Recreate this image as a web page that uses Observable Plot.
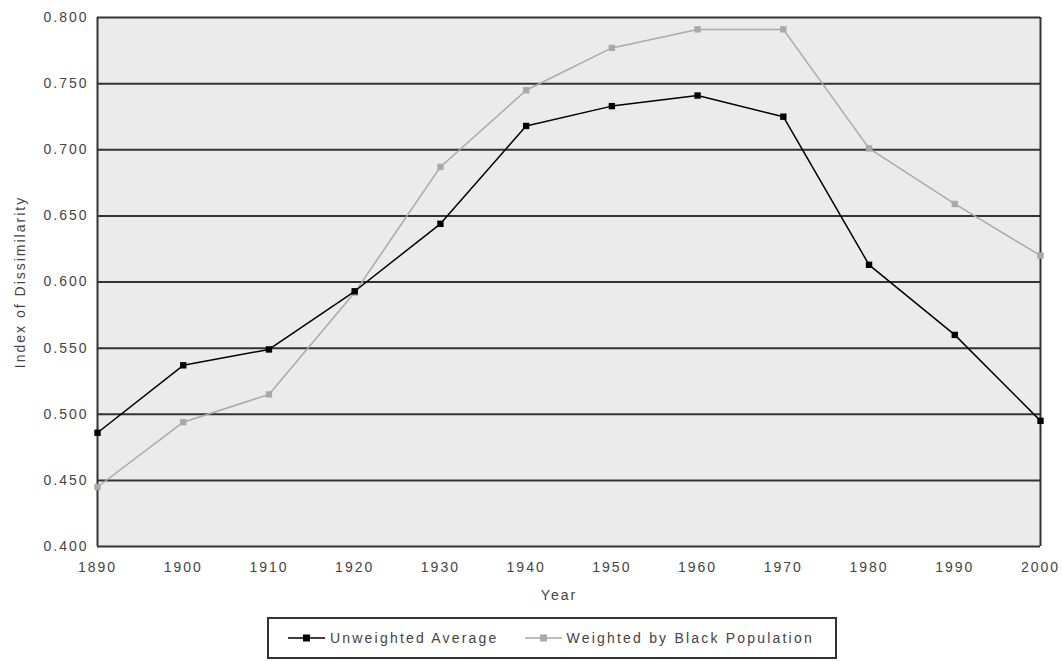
<!DOCTYPE html>
<html>
<head>
<meta charset="utf-8">
<script src="https://cdn.jsdelivr.net/npm/d3@7"></script>
<script src="https://cdn.jsdelivr.net/npm/@observablehq/plot@0.6"></script>
<style>
  html, body { margin: 0; padding: 0; background: #fff; }
  body { width: 1062px; height: 661px; position: relative; overflow: hidden;
         font-family: "Liberation Sans", Arial, sans-serif; }
  #chart svg { display: block; }
  #legend { position: absolute; left: 267px; top: 617px; width: 566px; height: 38px;
            border: 2px solid #333; display: flex; align-items: center;
            font-size: 14px; color: #444; letter-spacing: 2.2px; }
  .item { display: flex; align-items: center; }
</style>
</head>
<body>
<div id="chart"></div>
<div id="legend"></div>
<script>
const years = [1890, 1900, 1910, 1920, 1930, 1940, 1950, 1960, 1970, 1980, 1990, 2000];
const unweighted = [0.486, 0.537, 0.549, 0.593, 0.644, 0.718, 0.733, 0.741, 0.725, 0.613, 0.560, 0.495];
const weighted = [0.445, 0.494, 0.515, 0.592, 0.687, 0.745, 0.777, 0.791, 0.791, 0.701, 0.659, 0.620];
const yTicks = [0.400, 0.450, 0.500, 0.550, 0.600, 0.650, 0.700, 0.750, 0.800];
const seriesNames = ["Unweighted Average", "Weighted by Black Population"];
const seriesColors = ["#000000", "#a9a9a9"];
const xTitle = "Year";
const yTitle = "Index of Dissimilarity";

const data = [];
years.forEach((yr, i) => {
  data.push({year: yr, value: unweighted[i], series: seriesNames[0]});
  data.push({year: yr, value: weighted[i], series: seriesNames[1]});
});

const chart = Plot.plot({
  width: 1062,
  height: 612,
  marginTop: 17,
  marginLeft: 97,
  marginRight: 22,
  marginBottom: 66,
  style: {fontFamily: "'Liberation Sans', Arial, sans-serif", fontSize: "14px", color: "#444", letterSpacing: "2px"},
  x: {domain: [1890, 2000], ticks: years, tickFormat: d => String(d), tickSize: 0, tickPadding: 16, label: null},
  y: {domain: [0.4, 0.8], ticks: yTicks, tickFormat: d3.format(".3f"), tickSize: 0, tickPadding: 9, label: null},
  marks: [
    Plot.frame({fill: "#ebebeb", stroke: null}),
    Plot.ruleY(yTicks, {stroke: "#333", strokeWidth: 2}),
    Plot.ruleX([1890, 2000], {stroke: "#333", strokeWidth: 2}),
    Plot.line(data.filter(d => d.series === seriesNames[1]), {x: "year", y: "value", stroke: seriesColors[1], strokeWidth: 1.5}),
    Plot.dot(data.filter(d => d.series === seriesNames[1]), {x: "year", y: "value", symbol: "square", r: 3.6, fill: seriesColors[1], stroke: null}),
    Plot.line(data.filter(d => d.series === seriesNames[0]), {x: "year", y: "value", stroke: seriesColors[0], strokeWidth: 1.5}),
    Plot.dot(data.filter(d => d.series === seriesNames[0]), {x: "year", y: "value", symbol: "square", r: 3.6, fill: seriesColors[0], stroke: null}),
    Plot.text([xTitle], {frameAnchor: "bottom", text: d => d, dx: -10, dy: 53, fill: "#444", fontSize: 14}),
    Plot.text([yTitle], {frameAnchor: "left", text: d => d, textAnchor: "middle", rotate: -90, dx: -77, fill: "#444", fontSize: 14, style: {letterSpacing: "1.6px"}})
  ]
});
document.getElementById("chart").appendChild(chart);

const legend = document.getElementById("legend");
const gaps = [19, 26];
seriesNames.forEach((name, i) => {
  const item = document.createElement("div");
  item.className = "item";
  item.style.marginLeft = gaps[i] + "px";
  item.innerHTML = `<svg width="37" height="10" style="margin-right:5px"><line x1="0" x2="37" y1="5" y2="5" stroke="${seriesColors[i]}" stroke-width="1.5"/><rect x="15" y="1.5" width="7" height="7" fill="${seriesColors[i]}"/></svg><span>${name}</span>`;
  legend.appendChild(item);
});
</script>
</body>
</html>
